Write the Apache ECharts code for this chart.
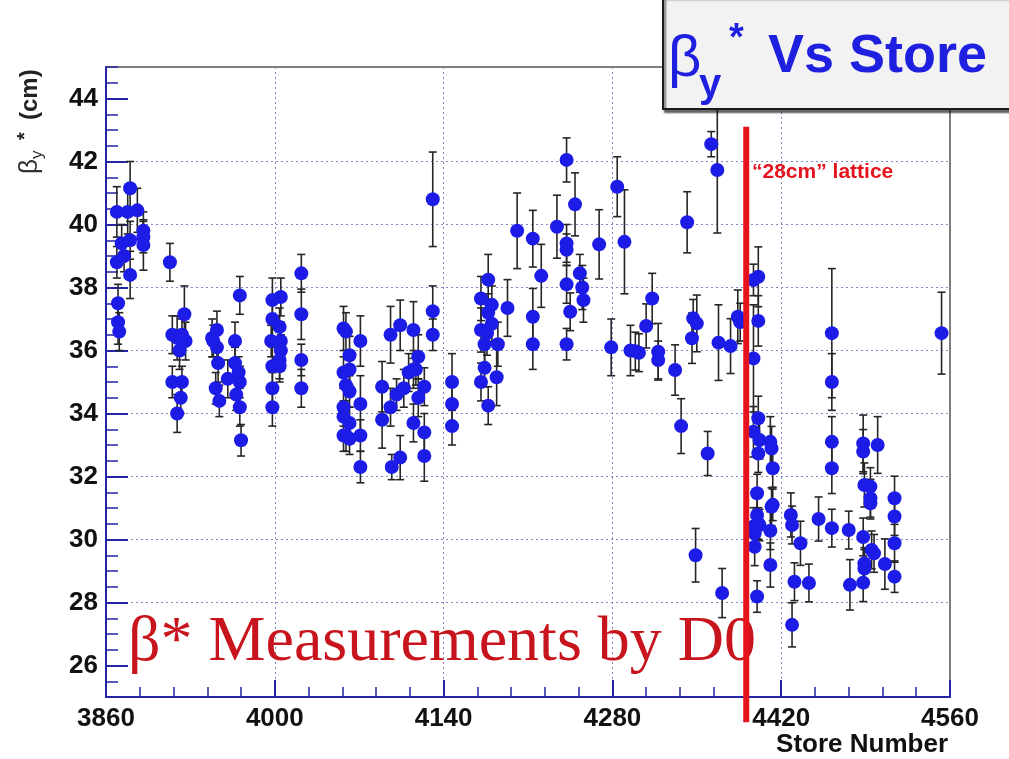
<!DOCTYPE html>
<html>
<head>
<meta charset="utf-8">
<script src="https://cdn.jsdelivr.net/npm/echarts@6/dist/echarts.min.js"></script>
<style>html,body{margin:0;padding:0;background:#fff}#chart{width:1009px;height:759px}</style>
</head>
<body>
<div id="chart"></div>
<script>
// ---- data ----
const storeNumbers = [
  3869,3869,3870,3870,3871,3873,3875,3878,3880,3880,3880,3886,3891,3891,3891,3913,
  3915,3915,3919,3919,3921,3922,3923,3923,3925,3926,
  3948,3949,3952,3952,3951,3953,3954,3961,3967,3967,3968,3971,3970,3971,3971,3972,
  3998,3998,3997,3998,3998,3998,4005,4004,4005,4005,4004,4004,4022,4022,4022,4022,
  4057,4057,4057,4057,4057,4059,4059,4059,4062,4062,4062,4062,4062,4071,4071,4071,4071,
  4089,4089,4096,4096,4097,4101,4104,4104,4107,4111,4115,4115,4115,4117,4119,4119,4124,4124,4124,4131,4131,4131,4147,4147,4147,
  4171,4171,4171,4174,4174,4176,4177,4177,4177,4180,4180,4185,4184,4193,4201,4214,4214,4214,4221,4234,
  4242,4242,4242,4242,4242,4245,4249,4253,4255,4256,4269,4279,4284,4290,4295,4299,4302,
  4308,4313,4318,4318,4332,4337,4342,4346,4347,4350,4349,4359,4362,4367,4368,4371,4378,4384,4386,
  4397,4401,4401,4397,4401,4397,4402,4411,4401,4412,4413,4400,4412,4413,4400,4401,4397,4402,4411,4398,
  4398,4411,4400,4428,4429,4436,4431,4443,4429,4451,4462,4462,4462,4462,4462,4476,4477,4488,4488,4500,
  4489,4494,4494,4494,4514,4514,4488,4495,4497,4489,4489,4506,4514,4514,4488,4553
];
const betaY = [
  40.4,38.8,37.5,36.9,36.6,39.4,39.0,40.4,41.15,39.5,38.4,40.45,39.8,39.6,39.35,38.8,
  36.5,35.0,36.4,34.0,36.0,34.5,36.5,35.0,37.15,36.3,
  36.4,36.3,36.65,36.1,34.8,35.6,34.4,35.1,36.3,35.6,34.6,37.75,35.3,35.0,34.2,33.15,
  37.6,37.0,36.3,35.5,34.8,34.2,37.7,36.75,36.3,36.0,35.7,35.5,38.45,37.15,35.7,34.8,
  36.7,35.3,34.2,33.9,33.3,36.6,34.9,33.3,35.85,35.4,34.7,33.7,33.2,36.3,34.3,33.3,32.3,
  34.85,33.8,36.5,34.2,32.3,34.6,36.8,32.6,34.8,35.3,36.65,35.4,33.7,35.4,35.8,34.5,34.85,33.4,32.65,40.8,37.25,36.5,35.0,34.3,33.6,
  37.65,36.65,35.0,36.2,35.45,36.55,38.25,37.2,34.25,37.45,36.85,36.2,35.15,37.35,39.8,39.55,37.07,36.2,38.37,39.93,
  42.05,39.4,39.2,38.1,36.2,37.23,40.64,38.45,38.0,37.6,39.37,36.1,41.2,39.45,36.0,35.98,35.93,
  36.78,37.65,35.96,35.7,35.38,33.6,40.07,36.39,37.02,36.86,29.5,32.73,42.55,41.73,36.25,28.3,36.14,37.07,36.9,
  38.24,38.34,36.94,35.75,33.85,33.42,33.16,33.1,32.73,32.89,32.26,31.47,31.04,31.1,30.78,30.51,30.41,30.46,30.28,30.19,
  29.77,29.19,28.19,30.78,30.46,29.88,28.66,28.62,27.29,30.65,36.55,35.0,33.1,32.26,30.36,30.3,28.56,33.05,32.79,33.0,
  31.73,31.68,31.31,31.15,31.31,30.73,30.08,29.67,29.56,29.24,29.08,29.22,29.88,28.82,28.63,36.55
];
const betaErr = [
  0.8,0.5,0.6,0.7,0.6,0.6,0.5,0.7,0.85,0.6,0.75,0.7,0.6,0.5,0.8,0.6,
  0.6,0.5,0.7,0.6,0.6,0.5,0.5,0.5,0.9,0.6,
  0.6,0.5,0.6,0.5,0.5,0.6,0.5,0.6,0.6,0.5,0.5,0.6,0.5,0.5,0.6,0.5,
  0.7,0.6,0.5,0.6,0.5,0.6,0.6,0.6,0.6,0.5,0.6,0.5,0.6,0.8,0.5,0.6,
  0.7,0.5,0.6,0.5,0.5,0.6,0.5,0.5,0.6,0.5,0.5,0.5,0.5,0.8,0.9,0.5,0.5,
  0.8,0.9,0.9,0.6,0.4,0.5,0.8,0.7,0.6,0.6,0.9,0.6,0.6,0.5,0.7,0.6,0.6,0.6,0.8,1.5,0.8,0.5,0.9,0.6,0.6,
  0.7,0.7,0.6,0.6,0.6,0.7,0.8,0.6,0.6,0.6,0.6,0.7,0.9,0.9,1.2,0.9,0.9,0.8,1.0,1.0,
  0.7,0.6,0.5,0.6,0.5,0.6,1.0,0.6,0.7,0.7,1.1,0.9,0.95,1.65,0.8,0.6,0.6,
  0.7,0.8,0.9,0.6,0.8,0.87,0.97,0.8,0.6,0.9,0.85,0.7,0.4,2.0,1.2,0.78,0.87,0.85,0.6,
  0.5,0.95,0.8,1.7,0.7,0.8,0.6,0.8,0.6,0.7,0.6,0.6,0.6,0.5,0.6,0.5,0.6,0.5,0.6,0.5,
  0.6,0.7,0.5,0.7,0.6,0.7,0.6,0.6,0.7,0.7,2.05,0.9,0.8,0.8,0.6,0.6,0.8,0.9,0.7,0.9,
  0.7,0.6,0.6,0.5,0.7,0.6,0.6,0.6,0.6,0.5,0.6,0.8,0.6,0.5,0.6,1.3
];
const xTickLabels = [3860, 4000, 4140, 4280, 4420, 4560];
const yTickLabels = [26, 28, 30, 32, 34, 36, 38, 40, 42, 44];
const latticeLine = [[4391, 43.1, 24.2]]; // store, top, bottom of the red marker line

// ---- build ----
const pts = storeNumbers.map((s, i) => [s, betaY[i]]);
const errs = storeNumbers.map((s, i) => [s, betaY[i], betaErr[i]]);
const AX = '#2424a6';
const GRIDC = '#8585c2';
const labelFont = {color: '#111', fontFamily: 'Liberation Sans', fontWeight: 'bold', fontSize: 26};

const chart = echarts.init(document.getElementById('chart'), null, {renderer: 'canvas'});
chart.setOption({
  backgroundColor: '#ffffff',
  animation: false,
  grid: {left: 106, right: 59, top: 67, bottom: 62, show: true, borderColor: '#555', borderWidth: 1.5, backgroundColor: '#fff'},
  xAxis: [
    {type: 'value', min: 3860, max: 4560, position: 'bottom',
     axisLine: {show: true, onZero: false, lineStyle: {color: AX, width: 2}},
     axisTick: {show: true, inside: true, length: 17, customValues: xTickLabels, lineStyle: {color: AX, width: 2}},
     axisLabel: Object.assign({customValues: xTickLabels, margin: 9, showMinLabel: true, showMaxLabel: true,
       formatter: v => String(v)}, labelFont),
     splitLine: {show: true, showMinLine: false, showMaxLine: false, lineStyle: {color: GRIDC, type: [2, 3], width: 1}}},
    {type: 'value', min: 0, max: 25, interval: 1, position: 'bottom',
     axisLine: {show: false}, axisTick: {show: true, inside: true, length: 10, lineStyle: {color: AX, width: 1.5}},
     axisLabel: {show: false}, splitLine: {show: false}}
  ],
  yAxis: [
    {type: 'value', min: 25, max: 45, position: 'left',
     axisLine: {show: true, onZero: false, lineStyle: {color: AX, width: 2}},
     axisTick: {show: true, inside: true, length: 22, customValues: yTickLabels, lineStyle: {color: AX, width: 2}},
     axisLabel: Object.assign({customValues: yTickLabels, margin: 8, formatter: v => String(v)}, labelFont),
     splitLine: {show: true, showMinLine: false, showMaxLine: false, lineStyle: {color: GRIDC, type: [2, 3], width: 1}}},
    {type: 'value', min: 25, max: 45, interval: 0.5, position: 'left',
     axisLine: {show: false}, axisTick: {show: true, inside: true, length: 12, lineStyle: {color: AX, width: 1.5}},
     axisLabel: {show: false}, splitLine: {show: false}}
  ],
  series: [
    {type: 'custom', name: 'err', xAxisIndex: 0, yAxisIndex: 0, data: errs, z: 2,
     renderItem: function (params, api) {
       const x = api.value(0), y = api.value(1), e = api.value(2);
       const a = api.coord([x, y + e]), b = api.coord([x, y - e]);
       const c = 4;
       const st = {stroke: '#262626', lineWidth: 1.6};
       return {type: 'group', children: [
         {type: 'line', shape: {x1: a[0], y1: a[1], x2: b[0], y2: b[1]}, style: st},
         {type: 'line', shape: {x1: a[0] - c, y1: a[1], x2: a[0] + c, y2: a[1]}, style: st},
         {type: 'line', shape: {x1: b[0] - c, y1: b[1], x2: b[0] + c, y2: b[1]}, style: st}
       ]};
     }},
    {type: 'scatter', name: 'beta', xAxisIndex: 0, yAxisIndex: 0, data: pts, z: 3,
     symbol: 'circle', symbolSize: 14, itemStyle: {color: '#1c1ce6', opacity: 1}},
    {type: 'custom', name: 'lattice', xAxisIndex: 0, yAxisIndex: 0, data: latticeLine, z: 10, clip: false,
     renderItem: function (params, api) {
       const a = api.coord([api.value(0), api.value(1)]);
       const b = api.coord([api.value(0), api.value(2)]);
       return {type: 'line', shape: {x1: a[0], y1: a[1], x2: b[0], y2: b[1]}, style: {stroke: '#e5141c', lineWidth: 6}};
     }}
  ],
  graphic: [
    {type: 'text', z: 1, x: 128, y: 643,
     style: {text: 'β* Measurements by D0', font: '64px "Liberation Serif"', fill: '#c8141c', textAlign: 'left', textVerticalAlign: 'middle'}},
    {type: 'text', z: 20, x: 752, y: 172,
     style: {text: '\u201c28cm\u201d lattice', font: 'bold 21px "Liberation Sans"', fill: '#e5141c', textAlign: 'left', textVerticalAlign: 'middle'}},
    {type: 'text', z: 20, x: 948, y: 745,
     style: {text: 'Store Number', font: 'bold 26px "Liberation Sans"', fill: '#111', textAlign: 'right', textVerticalAlign: 'middle'}},
    {type: 'group', x: 30, y: 120, rotation: Math.PI / 2, z: 20, children: [
      {type: 'text', x: -54, y: 0, style: {text: 'β', font: '26px "Liberation Sans"', fill: '#333', textAlign: 'left', textVerticalAlign: 'middle'}},
      {type: 'text', x: -39, y: 7, style: {text: 'y', font: '17px "Liberation Sans"', fill: '#333', textAlign: 'left', textVerticalAlign: 'middle'}},
      {type: 'text', x: -20, y: -5, style: {text: '*', font: 'bold 20px "Liberation Sans"', fill: '#222', textAlign: 'left', textVerticalAlign: 'middle'}},
      {type: 'text', x: 0, y: 0, style: {text: '(cm)', font: 'bold 24px "Liberation Sans"', fill: '#222', textAlign: 'left', textVerticalAlign: 'middle'}}
    ]},
    {type: 'rect', z: 100, shape: {x: 663, y: -4, width: 352, height: 113},
     style: {fill: '#f2f2f2', stroke: '#1a1a1a', lineWidth: 2, shadowColor: 'rgba(0,0,0,0.55)', shadowOffsetX: 2, shadowOffsetY: 3, shadowBlur: 2}},
    {type: 'text', z: 101, x: 668, y: 60,
     style: {text: 'β', font: '58px "Liberation Sans"', fill: '#1f1fe0', textAlign: 'left', textVerticalAlign: 'middle'}},
    {type: 'text', z: 101, x: 699, y: 86,
     style: {text: 'y', font: 'bold 40px "Liberation Sans"', fill: '#1f1fe0', textAlign: 'left', textVerticalAlign: 'middle'}},
    {type: 'text', z: 101, x: 729, y: 40,
     style: {text: '*', font: 'bold 38px "Liberation Sans"', fill: '#1f1fe0', textAlign: 'left', textVerticalAlign: 'middle'}},
    {type: 'text', z: 101, x: 768, y: 57,
     style: {text: 'Vs Store', font: 'bold 54px "Liberation Sans"', fill: '#1f1fe0', textAlign: 'left', textVerticalAlign: 'middle'}}
  ]
});
</script>
</body>
</html>
